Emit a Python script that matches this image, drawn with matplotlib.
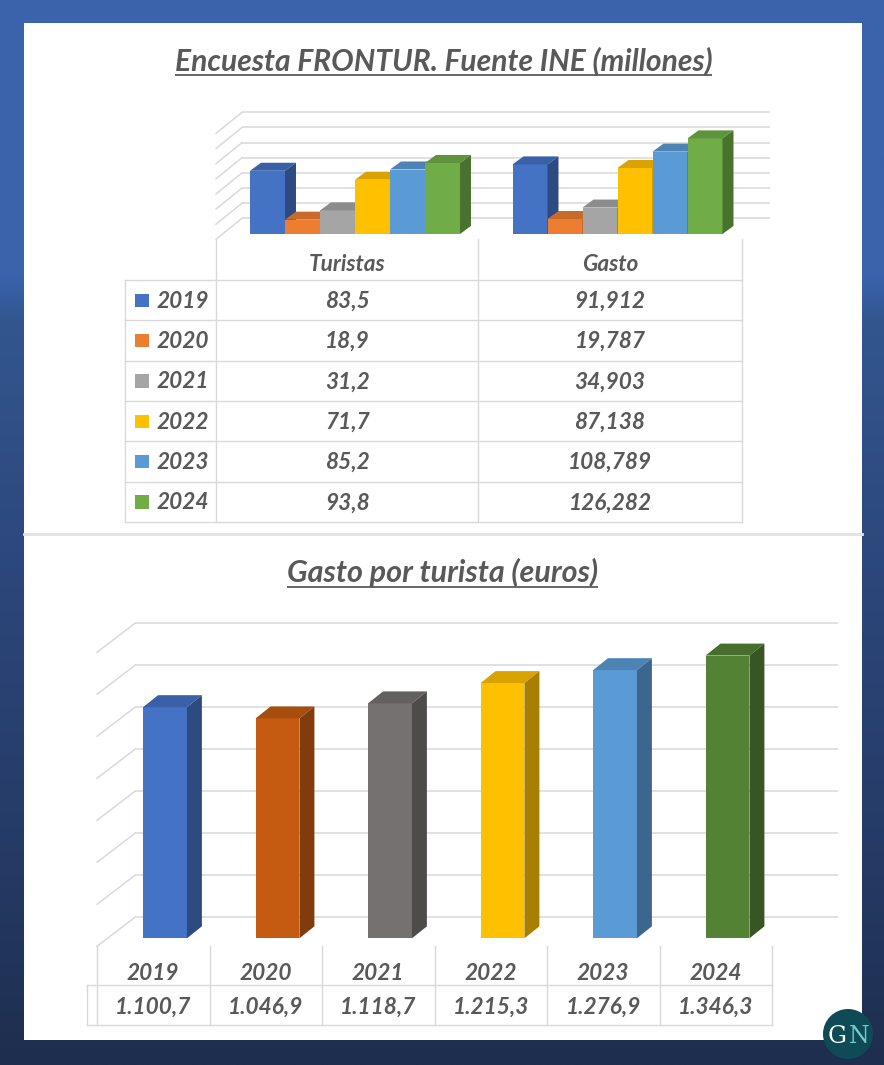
import matplotlib
matplotlib.use("Agg")
import matplotlib.pyplot as plt
import matplotlib.colors as mcolors
from matplotlib.patches import Rectangle, Polygon, Circle
import numpy as np

# ---------------- data ----------------
years = ["2019", "2020", "2021", "2022", "2023", "2024"]
group_labels = ["Turistas", "Gasto"]
turistas = [83.5, 18.9, 31.2, 71.7, 85.2, 93.8]
gasto = [91.912, 19.787, 34.903, 87.138, 108.789, 126.282]
gasto_por_turista = [1100.7, 1046.9, 1118.7, 1215.3, 1276.9, 1346.3]
title_top = "Encuesta FRONTUR. Fuente INE (millones)"
title_bottom = "Gasto por turista (euros)"
colors_top = ["#4472C4", "#ED7D31", "#A5A5A5", "#FFC000", "#5B9BD5", "#70AD47"]
colors_bottom = ["#4472C4", "#C55A11", "#767171", "#FFC000", "#5B9BD5", "#548235"]
top_ticks = list(range(0, 141, 20))
bottom_ticks = list(range(0, 1401, 200))

W, H = 884, 1065
TXT = "#595959"
GRID = "#D9D9D9"
FONT = dict(family="Lato", weight="bold", style="italic", color=TXT)


def fmt1(v):
    return f"{v:.1f}".replace(".", ",")


def fmt3(v):
    return f"{v:.3f}".replace(".", ",")


def fmt_thousands(v):
    s = f"{v:,.1f}"
    return s.replace(",", "X").replace(".", ",").replace("X", ".")


def darker(c, f):
    r, g, b = mcolors.to_rgb(c)
    return (r * f, g * f, b * f)


def draw_bar3d(ax, x0, w, h, dx, dy, color, z):
    ax.bar(x0, h, width=w, align="edge", color=color, linewidth=0, zorder=z)
    top = Polygon([(x0, h), (x0 + w, h), (x0 + w + dx, h + dy), (x0 + dx, h + dy)],
                  closed=True, facecolor=darker(color, 0.85), edgecolor="none", zorder=z + 0.1)
    side = Polygon([(x0 + w, 0), (x0 + w + dx, dy), (x0 + w + dx, h + dy), (x0 + w, h)],
                   closed=True, facecolor=darker(color, 0.66), edgecolor="none", zorder=z + 0.2)
    ax.add_patch(top)
    ax.add_patch(side)


def chart_axes(fig, box, x0px, xunit, y0px, yscale):
    left, top, right, bottom = box
    ax = fig.add_axes([left / W, 1 - bottom / H, (right - left) / W, (bottom - top) / H])
    ax.set_xlim((left - x0px) / xunit, (right - x0px) / xunit)
    ax.set_ylim((y0px - bottom) / yscale, (y0px - top) / yscale)
    ax.axis("off")
    ax.patch.set_alpha(0)
    ax.set_zorder(2)
    return ax


def draw_walls(ax, ticks, back_x0, back_x1, back_off, diag_x, diag_off):
    for t in ticks:
        ax.plot([back_x0, back_x1], [t + back_off, t + back_off], color=GRID, lw=1.1, zorder=1,
                solid_capstyle="butt")
        ax.plot([diag_x, back_x0], [t + diag_off, t + back_off], color=GRID, lw=1.1, zorder=1)


fig = plt.figure(figsize=(W / 100, H / 100), dpi=100)

# ---------------- background ----------------
bg = fig.add_axes([0, 0, 1, 1])
bg.set_zorder(0)
stops_y = [0.0, 0.26, 0.30, 0.55, 0.80, 1.0]
stops_c = ["#3C63AB", "#3A63AC", "#33568F", "#2C467A", "#253B66", "#1E2E4E"]
rgb = np.array([mcolors.to_rgb(c) for c in stops_c])
yy = np.linspace(0, 1, 400)
grad = np.stack([np.interp(yy, stops_y, rgb[:, k]) for k in range(3)], axis=1)
img = np.repeat(grad[:, None, :], 2, axis=1)
bg.imshow(img, extent=[0, W, H, 0], aspect="auto", interpolation="bilinear")
bg.set_xlim(0, W)
bg.set_ylim(H, 0)
bg.axis("off")
bg.add_patch(Rectangle((23.5, 22.5), 838.5, 1017.5, facecolor="white", edgecolor="none", zorder=2))
bg.plot([23.5, 862], [534, 534], color="#E2E2E2", lw=2, zorder=3)

# overlay for tables / texts (pixel coordinates)
ov = fig.add_axes([0, 0, 1, 1])
ov.set_xlim(0, W)
ov.set_ylim(H, 0)
ov.axis("off")
ov.patch.set_alpha(0)
ov.set_zorder(3)

# ---------------- top chart ----------------
axT = chart_axes(fig, (185, 95, 795, 250), x0px=250, xunit=35, y0px=234, yscale=0.757)
draw_walls(axT, top_ticks, back_x0=-0.23, back_x1=14.86, back_off=20.7, diag_x=-0.97, diag_off=-7.0)
series_by_group = [turistas, gasto]
group_step = 7.5
z = 3
for g, vals in enumerate(series_by_group):
    for i, v in enumerate(vals):
        draw_bar3d(axT, g * group_step + i, 1.0, v, 0.314, 10.6, colors_top[i], z)
        z += 1

# ---------------- bottom chart ----------------
axB = chart_axes(fig, (80, 595, 852, 955), x0px=165, xunit=112.5, y0px=938.3, yscale=0.21)
draw_walls(axB, bottom_ticks, back_x0=-0.267, back_x1=5.98, back_off=100, diag_x=-0.604, diag_off=-38)
z = 3
for i, v in enumerate(gasto_por_turista):
    draw_bar3d(axB, i - 0.195, 0.39, v, 0.133, 57, colors_bottom[i], z)
    z += 1

# ---------------- top table ----------------
lw_t = 1.0
col_x = [125, 216, 478, 742]
row_y = [280, 320.3, 360.6, 400.9, 441.2, 481.5, 521.8]
for x in col_x[1:]:
    ov.plot([x, x], [239, row_y[-1]], color=GRID, lw=lw_t)
ov.plot([col_x[0], col_x[0]], [row_y[0], row_y[-1]], color=GRID, lw=lw_t)
for y in row_y:
    ov.plot([col_x[0], col_x[-1]], [y, y], color=GRID, lw=lw_t)
centers = [(col_x[1] + col_x[2]) / 2 + 0.5, (col_x[2] + col_x[3]) / 2]
for c, lab in zip(centers, group_labels):
    ov.text(c, 271, lab, ha="center", va="baseline", fontsize=16.3, **FONT)
for i, yr in enumerate(years):
    yc = (row_y[i] + row_y[i + 1]) / 2
    ov.add_patch(Rectangle((135, yc - 6.5), 13.5, 13.5, facecolor=colors_top[i], edgecolor="none"))
    ov.text(183, yc + 7.6, yr, ha="center", va="baseline", fontsize=16.3, **FONT)
    ov.text(centers[0], yc + 7.6, fmt1(turistas[i]), ha="center", va="baseline", fontsize=16.3, **FONT)
    ov.text(centers[1], yc + 7.6, fmt3(gasto[i]), ha="center", va="baseline", fontsize=16.3, **FONT)

# ---------------- bottom table ----------------
bcols = [97, 209.5, 322, 434.5, 547, 659.5, 772]
ov.plot([87, 87], [985, 1025], color=GRID, lw=lw_t)
for x in bcols:
    ov.plot([x, x], [946, 1025], color=GRID, lw=lw_t)
for y in [985, 1025]:
    ov.plot([87, bcols[-1]], [y, y], color=GRID, lw=lw_t)
for i, yr in enumerate(years):
    cx = (bcols[i] + bcols[i + 1]) / 2
    ov.text(cx, 979.5, yr, ha="center", va="baseline", fontsize=16.3, **FONT)
    ov.text(cx, 1013.5, fmt_thousands(gasto_por_turista[i]), ha="center", va="baseline",
            fontsize=16.3, **FONT)

# ---------------- titles (fit to measured widths) ----------------
fig.canvas.draw()
renderer = fig.canvas.get_renderer()


def fitted_title(text, cx, baseline, width_px, underline_y):
    t = ov.text(cx, baseline, text, ha="center", va="baseline", fontsize=20, **FONT)
    bb = t.get_window_extent(renderer)
    t.set_fontsize(20 * width_px / bb.width)
    bb = t.get_window_extent(renderer)
    ov.plot([bb.x0, bb.x1], [underline_y, underline_y], color=TXT, lw=1.3, solid_capstyle="butt")


fitted_title(title_top, 443.5, 70.5, 537, 74.5)
fitted_title(title_bottom, 442.5, 582, 311, 586.5)

# ---------------- logo ----------------
ov.add_patch(Circle((848, 1034), 25, facecolor="#0E4B56", edgecolor="none", zorder=5))
ov.text(847, 1043, "G", ha="right", va="baseline", fontsize=17, family="DejaVu Serif",
        color="white", zorder=6)
ov.text(849, 1043, "N", ha="left", va="baseline", fontsize=17, family="DejaVu Serif",
        color="#6FCFCB", zorder=6)

fig.savefig("out.png", dpi=100)
